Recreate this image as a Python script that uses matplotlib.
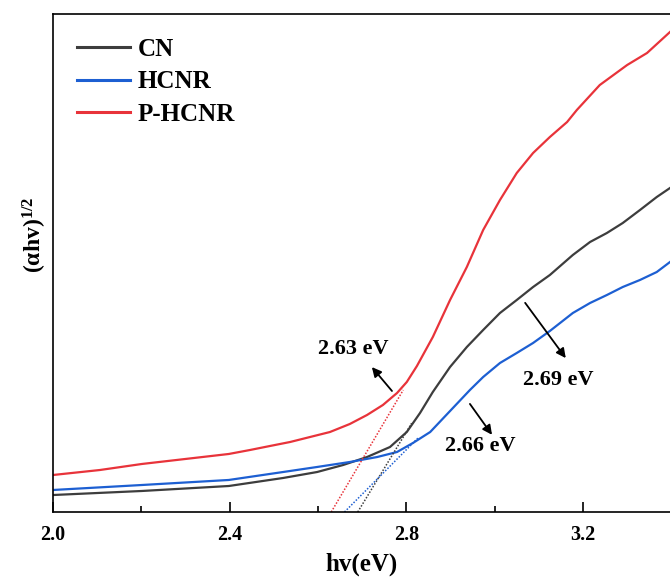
import matplotlib
matplotlib.use("Agg")
import matplotlib.pyplot as plt
from matplotlib.ticker import MultipleLocator, FormatStrFormatter
from matplotlib.lines import Line2D
import numpy as np

plt.rcParams['font.family'] = ['Liberation Serif', 'DejaVu Serif']
plt.rcParams['font.weight'] = 'bold'
plt.rcParams['mathtext.fontset'] = 'custom'
plt.rcParams['mathtext.rm'] = 'Liberation Serif:bold'
plt.rcParams['mathtext.bf'] = 'Liberation Serif:bold'
plt.rcParams['mathtext.it'] = 'Liberation Serif:bold'

# Tauc plot curves, photon energy (eV) vs (alpha*h*v)^(1/2) in arbitrary units
cn_x = [2.000, 2.201, 2.398, 2.521, 2.598, 2.657, 2.711, 2.763, 2.801, 2.831,
        2.860, 2.899, 2.937, 2.974, 3.012, 3.050, 3.087, 3.125, 3.177, 3.216,
        3.254, 3.290, 3.329, 3.367, 3.397]
cn_y = [3.41, 4.22, 5.22, 6.83, 8.03, 9.44, 11.04, 13.05, 16.06, 19.88,
        24.10, 29.12, 33.13, 36.55, 39.96, 42.57, 45.18, 47.59, 51.61, 54.22,
        56.02, 58.03, 60.64, 63.25, 65.06]

hcnr_x = [2.000, 2.201, 2.398, 2.521, 2.598, 2.672, 2.734, 2.779, 2.815, 2.854,
          2.899, 2.944, 2.974, 3.012, 3.050, 3.087, 3.125, 3.177, 3.216, 3.254,
          3.290, 3.329, 3.367, 3.397]
hcnr_y = [4.42, 5.42, 6.43, 8.03, 9.04, 10.04, 11.04, 12.05, 13.86, 16.06,
          20.28, 24.50, 27.11, 29.92, 31.93, 33.94, 36.35, 39.96, 41.97, 43.57,
          45.18, 46.59, 48.19, 50.20]

phcnr_x = [2.000, 2.106, 2.201, 2.299, 2.398, 2.446, 2.491, 2.537, 2.582, 2.627,
           2.672, 2.711, 2.747, 2.779, 2.801, 2.824, 2.860, 2.899, 2.937, 2.974,
           3.012, 3.050, 3.087, 3.125, 3.164, 3.186, 3.238, 3.300, 3.345, 3.397]
phcnr_y = [7.43, 8.43, 9.64, 10.64, 11.65, 12.45, 13.25, 14.06, 15.06, 16.06,
           17.67, 19.48, 21.49, 23.90, 26.10, 29.32, 35.14, 42.57, 49.20, 56.63,
           62.65, 68.07, 72.09, 75.30, 78.31, 80.72, 85.74, 89.76, 92.17, 96.39]

labels = ['CN', 'HCNR', 'P-HCNR']
colors = ['#3d3d3d', '#1d5fd2', '#e8333a']

# Band-gap tangent lines: x-intercept (eV), slope, end of drawn segment
gaps = [2.69, 2.66, 2.63]
slopes = [146.1, 89.3, 150.3]
tangent_end = [2.812, 2.826, 2.793]
gap_text = ['2.69 eV', '2.66 eV', '2.63 eV']
# arrow tail, arrow head, text centre
arrow_tail = [(3.069, 42.0), (2.944, 21.7), (2.7675, 24.3)]
arrow_head = [(3.161, 30.9), (2.994, 15.5), (2.722, 29.1)]
text_pos = [(3.143, 26.5), (2.967, 13.3), (2.679, 32.7)]

fig = plt.figure(figsize=(6.7, 5.78), dpi=100)
ax = fig.add_axes([53 / 670, 1 - 512 / 578, 617 / 670, 498 / 578])

series = [(cn_x, cn_y), (hcnr_x, hcnr_y), (phcnr_x, phcnr_y)]
for (xs, ys), lab, c in zip(series, labels, colors):
    ax.plot(xs, ys, color=c, lw=1.6, label=lab, solid_joinstyle='round')

for g, s, e, c in zip(gaps, slopes, tangent_end, colors):
    tx = np.array([g, e])
    ax.plot(tx, s * (tx - g), color=c, lw=1.1, ls=(0, (1, 1.1)))

for t, h, p, txt in zip(arrow_tail, arrow_head, text_pos, gap_text):
    ax.annotate('', xy=h, xytext=t,
                arrowprops=dict(arrowstyle='-|>', color='black', lw=1.3,
                                mutation_scale=14, shrinkA=0, shrinkB=0))
    ax.text(p[0], p[1], txt, ha='center', va='center', fontsize=16,
            fontweight='bold')

ax.set_xlim(2.0, 3.397)
ax.set_ylim(0, 100)
ax.xaxis.set_major_locator(MultipleLocator(0.4))
ax.xaxis.set_minor_locator(MultipleLocator(0.2))
ax.xaxis.set_major_formatter(FormatStrFormatter('%.1f'))
ax.tick_params(axis='x', which='major', direction='in', length=7, width=1.2,
               labelsize=14.5, pad=9)
ax.tick_params(axis='x', which='minor', direction='in', length=4, width=1.2)
ax.tick_params(axis='y', which='both', left=False, labelleft=False)
for lbl in ax.get_xticklabels():
    lbl.set_fontweight('bold')

for side in ['left', 'bottom', 'top']:
    ax.spines[side].set_linewidth(1.2)
ax.spines['right'].set_visible(False)

ax.set_xlabel('hv(eV)', fontsize=18, fontweight='bold', labelpad=6)
ax.text(-0.03, 0.556, r'$\mathbf{(\alpha hv)^{1/2}}$', transform=ax.transAxes,
        rotation=90, ha='center', va='center', fontsize=17)

handles = [Line2D([0], [0], color=c, lw=2.2) for c in colors]
ax.legend(handles, labels, loc='upper left', frameon=False, fontsize=18,
          handlelength=2.1, handletextpad=0.3, labelspacing=0.38,
          bbox_to_anchor=(0.015, 0.982), borderaxespad=0.2)

fig.savefig('out.png', dpi=100)
